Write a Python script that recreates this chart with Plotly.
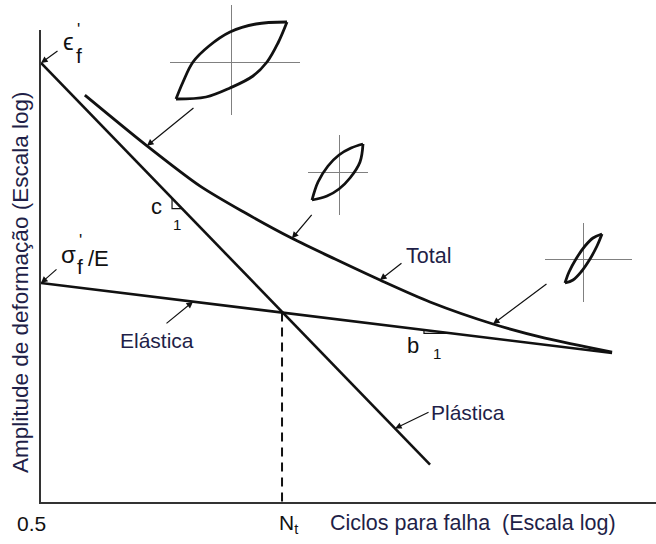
import numpy as np
import plotly.graph_objects as go

# ---- strain-life curves (cycles to failure vs strain amplitude, log-log) ----
N_elastic = [0.5, 28700]
eps_elastic = [0.00847, 0.00428]

N_plastic = [0.5, 873]
eps_plastic = [0.0725, 0.00144]

N_total = [1.16, 3.82, 10.6, 25.1, 61.7, 141, 334, 872, 2920, 7930, 28700]
eps_total = [0.0530, 0.0323, 0.0218, 0.0168, 0.0131, 0.0107, 0.00872,
             0.00704, 0.00568, 0.00495, 0.00432]

N_t = 51  # transition life

# ---- hysteresis loop sketches (strain, stress), arbitrary units ----
big_up_strain = [-55, -48, -38, -22, -1, 25, 56]
big_up_stress = [-37, -20, 0, 16, 30, 38, 40]
big_lo_strain = [-55, -25, -1, 22, 36, 47, 56]
big_lo_stress = [-37, -35, -26, -14, 0, 19, 40]

mid_up_strain = [-27, -21, -11, 0, 12, 24]
mid_up_stress = [-28, -10, 6, 17, 24, 28]
mid_lo_strain = [-27, -12, 0, 11, 21, 24]
mid_lo_stress = [-28, -24, -17, -6, 10, 28]

small_up_strain = [-18, -14, -7, 2, 10, 19]
small_up_stress = [-24, -13, 0, 13, 21, 25]
small_lo_strain = [-18, -10, -2, 7, 14, 19]
small_lo_stress = [-24, -21, -13, 0, 13, 25]

W, H = 656, 544
FONT = "Liberation Sans, Arial, sans-serif"
INK = "#111111"
NAVY = "#1f1f48"


def on_curve(Ns, eps, N):
    """Strain on a log-log polyline at life N."""
    return 10 ** np.interp(np.log10(N), np.log10(Ns), np.log10(eps))


def px(x, y):
    """Figure pixel position -> paper fraction."""
    return x / W, 1 - y / H


fig = go.Figure()

line_style = dict(color=INK, width=2.6)
fig.add_trace(go.Scatter(x=N_plastic, y=eps_plastic, mode="lines", line=line_style))
fig.add_trace(go.Scatter(x=N_elastic, y=eps_elastic, mode="lines", line=line_style))
fig.add_trace(go.Scatter(x=N_total, y=eps_total, mode="lines",
                         line=dict(color=INK, width=2.8, shape="spline", smoothing=0.8)))

# dashed drop line at the transition life
eps_at_Nt = on_curve(N_elastic, eps_elastic, N_t)
fig.add_trace(go.Scatter(x=[N_t, N_t], y=[eps_at_Nt, 0.001], mode="lines",
                         line=dict(color=INK, width=2, dash="9px,6px")))


# slope triangles
def slope_triangle(Ns, eps, n1, n2):
    e1, e2 = on_curve(Ns, eps, n1), on_curve(Ns, eps, n2)
    return [n1, n1, n2], [e1, e2, e2]


tx, ty = slope_triangle(N_plastic, eps_plastic, 6.18, 7.48)
fig.add_trace(go.Scatter(x=tx, y=ty, mode="lines", line=dict(color=INK, width=1.2)))
tx, ty = slope_triangle(N_elastic, eps_elastic, 777, 1331)
fig.add_trace(go.Scatter(x=tx, y=ty, mode="lines", line=dict(color=INK, width=1.2)))

# hysteresis loops in small inset axes (crosshair = zero lines)
loops = [
    (big_up_strain, big_up_stress, big_lo_strain, big_lo_stress),
    (mid_up_strain, mid_up_stress, mid_lo_strain, mid_lo_stress),
    (small_up_strain, small_up_stress, small_lo_strain, small_lo_stress),
]
insets = [
    # (x px span, y px span, x range, y range)
    ((170, 300), (5, 115), [-61, 69], [-53, 57]),
    ((308, 368), (135, 215), [-31, 29], [-43, 37]),
    ((545, 632), (223, 302), [-38, 49], [-43, 36]),
]
for k, ((us, uS, ls, lS), (xs, ys, xr, yr)) in enumerate(zip(loops, insets), start=2):
    fig.add_trace(go.Scatter(x=us + [None] + ls, y=uS + [None] + lS, mode="lines",
                             line=dict(color=INK, width=2.8, shape="spline", smoothing=1.0),
                             xaxis=f"x{k}", yaxis=f"y{k}"))
    ax_common = dict(showgrid=False, showticklabels=False, ticks="", showline=False,
                     zeroline=True, zerolinecolor="#808080", zerolinewidth=1.2,
                     fixedrange=True)
    fig.layout[f"xaxis{k}"] = dict(domain=[xs[0] / W, xs[1] / W], range=xr,
                                   anchor=f"y{k}", **ax_common)
    fig.layout[f"yaxis{k}"] = dict(domain=[1 - ys[1] / H, 1 - ys[0] / H], range=yr,
                                   anchor=f"x{k}", **ax_common)

fig.update_traces(showlegend=False, hoverinfo="skip")

x_lo = np.log10(0.5)
fig.update_layout(
    width=W, height=H,
    margin=dict(l=0, r=0, t=0, b=0, pad=0),
    paper_bgcolor="white", plot_bgcolor="rgba(0,0,0,0)",
    showlegend=False,
    xaxis=dict(type="log", range=[x_lo, x_lo + 5.125], domain=[41 / W, 1],
               showline=True, linecolor="#333333", linewidth=2,
               showgrid=False, zeroline=False, showticklabels=False, ticks="",
               fixedrange=True),
    yaxis=dict(type="log", range=[-3, -1], domain=[42 / H, 514 / H],
               showline=True, linecolor="#333333", linewidth=2,
               showgrid=False, zeroline=False, showticklabels=False, ticks="",
               fixedrange=True),
)

ann = []


def text(s, x, y, size=21, color=INK, **kw):
    xp, yp = px(x, y)
    ann.append(dict(text=s, x=xp, y=yp, xref="paper", yref="paper", showarrow=False,
                    font=dict(family=FONT, size=size, color=color),
                    xanchor=kw.pop("xanchor", "center"), yanchor="middle", **kw))


def arrow(N, eps, dx, dy):
    ann.append(dict(text="", x=np.log10(N), y=np.log10(eps), xref="x", yref="y",
                    showarrow=True, ax=dx, ay=dy, arrowhead=2, arrowsize=1.1,
                    arrowwidth=1.2, arrowcolor=INK, standoff=0))


# labels
text("Total", 428, 256, size=21.5, color=NAVY)
text("Elástica", 157, 340, size=21, color=NAVY)
text("Plástica", 468, 412, size=21, color=NAVY)
text("Ciclos para falha  (Escala log)", 328, 523, size=21.5, color=NAVY, xanchor="left")
text("Amplitude de deformação (Escala log)", 20, 283, size=22.5, color=NAVY, textangle=-90)
text("0.5", 31, 523, size=21)
text("N<sub>t</sub>", 288, 524, size=21)

# material constants at the axis
text("ϵ", 68, 42, size=24)
text("'", 78, 29, size=17)
text("f", 79, 56, size=21)
text("σ", 68, 254, size=24)
text("'", 80, 240, size=17)
text("f", 80, 266, size=21)
text("/E", 86, 258, size=22, xanchor="left")

# slope labels
text("c", 156, 206, size=22)
text("1", 177, 224, size=15)
text("b", 413, 345, size=22)
text("1", 437, 353, size=15)

# arrows
arrow(N_plastic[0], eps_plastic[0], 18, -13)       # eps'_f
arrow(N_elastic[0], eps_elastic[0], 17, -15)       # sigma'_f / E
arrow(N_total[1], eps_total[1], 48, -39)           # large loop
arrow(N_total[4], eps_total[4], 21, -25)           # medium loop
arrow(N_total[6], eps_total[6], 23, -18)           # "Total"
arrow(N_total[8], eps_total[8], 55, -41)           # small loop
arrow(9.24, on_curve(N_elastic, eps_elastic, 9.24), -28, 23)   # "Elástica"
arrow(446, on_curve(N_plastic, eps_plastic, 446), 35, -17)     # "Plástica"

fig.update_layout(annotations=ann)
fig.write_html("out.html")
